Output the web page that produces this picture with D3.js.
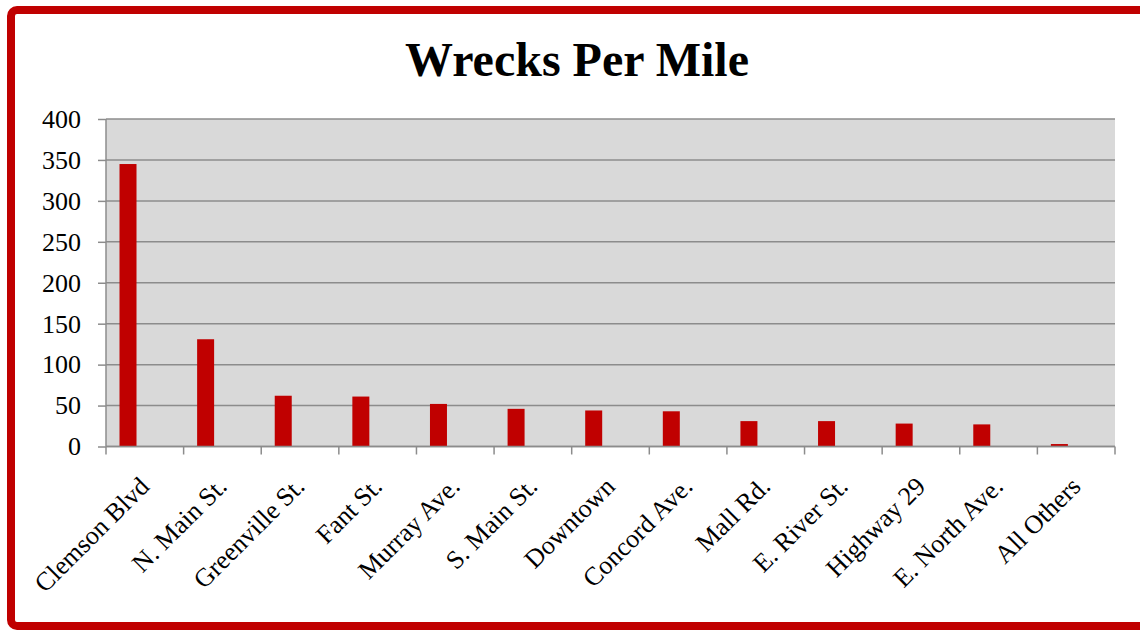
<!DOCTYPE html>
<html><head><meta charset="utf-8">
<script src="https://cdn.jsdelivr.net/npm/d3@7"></script>
<style>body{margin:0;background:#fff}svg{display:block}</style>
</head><body>
<svg id="c" width="1140" height="630"></svg>
<script>
const categories = ["Clemson Blvd","N. Main St.","Greenville St.","Fant St.","Murray Ave.","S. Main St.","Downtown","Concord Ave.","Mall Rd.","E. River St.","Highway 29","E. North Ave.","All Others"];
const values = [345,131,62,61,52,46,44,43,31,31,28,27,3];
const yTicks = [0,50,100,150,200,250,300,350,400];
const title = "Wrecks Per Mile";

const svg = d3.select("#c");
const font = "'Liberation Serif','Times New Roman',serif";
const L = 106, R = 1115, T = 119, B = 446.5;

svg.append("rect").attr("x",11).attr("y",10).attr("width",1150).attr("height",616)
  .attr("rx",6).attr("fill","#fff").attr("stroke","#C00000").attr("stroke-width",8);

svg.append("text").attr("x",577).attr("y",76).attr("text-anchor","middle")
  .attr("font-family",font).attr("font-weight","bold").attr("font-size",48).text(title);

const x = d3.scaleBand().domain(categories).range([L,R]).padding(0);
const y = d3.scaleLinear().domain([0,400]).range([B,T]);

svg.append("rect").attr("x",L).attr("y",T).attr("width",R-L).attr("height",B-T).attr("fill","#D9D9D9");

// gridlines
svg.append("g").selectAll("line").data(yTicks).join("line")
  .attr("x1",L).attr("x2",R).attr("y1",d=>y(d)).attr("y2",d=>y(d))
  .attr("stroke","#8c8c8c").attr("stroke-width",1.5);

// bars
const bw = x.bandwidth();
svg.append("g").selectAll("rect").data(values).join("rect")
  .attr("x",(d,i)=>x(categories[i]) + bw*0.174)
  .attr("width",bw*0.219)
  .attr("y",d=>y(d)).attr("height",d=>B-y(d))
  .attr("fill","#C00000");

// y axis
const ya = svg.append("g").attr("transform",`translate(${L},0)`)
  .call(d3.axisLeft(y).tickValues(yTicks).tickSize(8).tickPadding(17).tickFormat(d3.format("d")));
ya.selectAll("line,path").attr("stroke","#8c8c8c").attr("stroke-width",1.5);
ya.select("path").attr("d",`M0,${B}V${T}`);
ya.selectAll("text").attr("font-family",font).attr("font-size",26).attr("fill","#000");

// x axis
const xa = svg.append("g").attr("transform",`translate(0,${B})`);
xa.append("line").attr("x1",L).attr("x2",R).attr("y1",0).attr("y2",0).attr("stroke","#8c8c8c").attr("stroke-width",1.5);
const tickXs = categories.map(c=>x(c)).concat([R]);
xa.selectAll("line.t").data(tickXs).join("line").attr("class","t")
  .attr("x1",d=>d).attr("x2",d=>d).attr("y1",0).attr("y2",8).attr("stroke","#8c8c8c").attr("stroke-width",1.5);
svg.append("g").selectAll("text").data(categories).join("text")
  .attr("transform",d=>`translate(${x(d)+bw/2+6},488) rotate(-45)`)
  .attr("text-anchor","end").attr("font-family",font).attr("font-size",26).text(d=>d);
</script>
</body></html>
